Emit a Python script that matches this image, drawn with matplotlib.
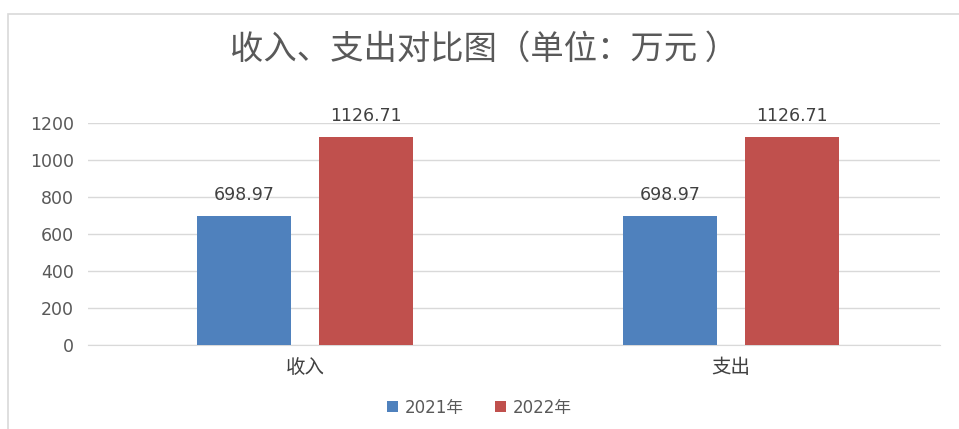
import numpy as np
import matplotlib.pyplot as plt
from matplotlib.patches import Rectangle

# data
categories = ['收入', '支出']
series_names = ['2021年', '2022年']
values_2021 = [698.97, 698.97]
values_2022 = [1126.71, 1126.71]
y_ticks = [0, 200, 400, 600, 800, 1000, 1200]

plt.rcParams['font.family'] = ['DejaVu Sans', 'Noto Sans CJK SC']

fig = plt.figure(figsize=(9.59, 4.29), dpi=100)
ax = fig.add_axes([0.0918, 0.196, 0.888, 0.517])

# light frame around the chart area
fig.patches.append(Rectangle((8 / 959, -0.1), 1.2, 1 - 14 / 429 + 0.1,
                             transform=fig.transFigure, fill=False,
                             edgecolor='#d9d9d9', linewidth=1.2))

x = np.arange(len(categories))
width = 0.22
offset = 0.143
bars1 = ax.bar(x - offset, values_2021, width, color='#4f81bd', label=series_names[0], zorder=3)
bars2 = ax.bar(x + offset, values_2022, width, color='#c0504d', label=series_names[1], zorder=3)

for bars in (bars1, bars2):
    for b in bars:
        ax.annotate(f'{b.get_height():.2f}', (b.get_x() + b.get_width() / 2, b.get_height()),
                    xytext=(0, 8.5), textcoords='offset points', ha='center', va='bottom',
                    fontsize=12.5, color='#404040')

ax.set_xlim(-0.51, 1.49)
ax.set_ylim(0, 1200)
ax.set_yticks(y_ticks)
ax.set_yticklabels([str(t) for t in y_ticks], fontsize=12.5, color='#595959')
ax.set_xticks(x)
ax.set_xticklabels(categories, fontsize=14, color='#404040', family=['Noto Sans CJK SC'])
ax.tick_params(length=0, pad=10)
ax.tick_params(axis='x', pad=9)
ax.yaxis.grid(True, color='#d9d9d9', linewidth=1)
for s in ['top', 'right', 'left']:
    ax.spines[s].set_visible(False)
ax.spines['bottom'].set_color('#d9d9d9')

fig.text(0.505, 0.885, '收入、支出对比图（单位：万元 ）', ha='center', va='center',
         fontsize=24, color='#595959', family=['Noto Sans CJK SC'], fontweight='light')

fig.legend(loc='center', bbox_to_anchor=(0.5, 0.05), ncol=2, frameon=False,
           fontsize=12, handlelength=0.65, handleheight=0.65, columnspacing=1.9,
           handletextpad=0.4, labelcolor='#595959')

plt.savefig('out.png', dpi=100)
